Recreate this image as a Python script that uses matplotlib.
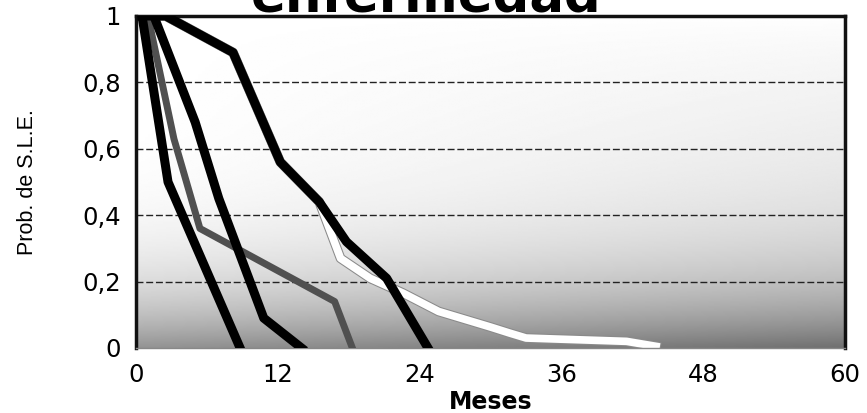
import matplotlib.pyplot as plt
import numpy as np

# Survival curves (months, probability)
c1_x = [0.5, 2.7, 8.8]
c1_y = [1.0, 0.5, 0.0]

gray_x = [1.0, 3.2, 5.4, 16.8, 18.3]
gray_y = [1.0, 0.63, 0.36, 0.14, 0.0]

c3_x = [1.5, 5.0, 7.0, 10.8, 14.0]
c3_y = [1.0, 0.68, 0.45, 0.09, 0.0]

c4_x = [0.5, 2.5, 8.2, 12.2, 15.5, 17.8, 21.2, 24.7]
c4_y = [1.0, 1.0, 0.89, 0.56, 0.44, 0.32, 0.21, 0.0]

# white curve runs under the 4th one at the start
white_x = [0.5, 2.5, 8.2, 12.2, 15.5, 17.3, 19.8, 22.6, 25.6, 30.0, 31.6, 33.0, 41.5, 44.0]
white_y = [1.0, 1.0, 0.89, 0.56, 0.44, 0.27, 0.21, 0.165, 0.11, 0.063, 0.045, 0.03, 0.02, 0.005]

x_ticks = [0, 12, 24, 36, 48, 60]
y_ticks = [0, 0.2, 0.4, 0.6, 0.8, 1.0]
y_tick_labels = ["0", "0,2", "0,4", "0,6", "0,8", "1"]

fig = plt.figure(figsize=(8.67, 4.13), dpi=100)
ax = fig.add_axes([0.157, 0.1574, 0.8178, 0.8039])

# shaded background, light at the top and darker toward the bottom / right
gx, gy = np.meshgrid(np.linspace(0, 1, 200), np.linspace(0, 1, 200))
shade = 1 - 0.42 * (1 - gy) ** 5 - 0.14 * gx * (1 - gy) ** 0.7
ax.imshow(shade, extent=[0, 60, 0, 1], origin="lower", aspect="auto",
          cmap="gray", vmin=0, vmax=1, zorder=0, interpolation="bilinear")

for yv in y_ticks[1:-1]:
    ax.axhline(yv, color="#222222", lw=1, dashes=(5, 2), zorder=1)

ax.plot(white_x, white_y, color="#8a8a8a", lw=7, zorder=2, solid_joinstyle="round")
ax.plot(white_x, white_y, color="white", lw=5.5, zorder=2.1, solid_joinstyle="round")
ax.plot(gray_x, gray_y, color="#505050", lw=5, zorder=3, solid_joinstyle="round")
ax.plot(c1_x, c1_y, color="black", lw=6.5, zorder=4, solid_joinstyle="round")
ax.plot(c3_x, c3_y, color="black", lw=6.5, zorder=4, solid_joinstyle="round")
ax.plot(c4_x, c4_y, color="black", lw=6.5, zorder=4, solid_joinstyle="round")

ax.set_xlim(0, 60)
ax.set_ylim(0, 1)
ax.set_xticks(x_ticks)
ax.set_xticklabels([str(t) for t in x_ticks], fontsize=17.5, family="DejaVu Sans")
ax.set_yticks(y_ticks)
ax.set_yticklabels(y_tick_labels, fontsize=17.5, family="DejaVu Sans")
ax.tick_params(length=0, pad=11)

for side in ["top", "left", "right"]:
    ax.spines[side].set_color("#111111")
    ax.spines[side].set_linewidth(2.5)
ax.spines["bottom"].set_color("#888888")
ax.spines["bottom"].set_linewidth(1)

ax.set_xlabel("Meses", fontsize=17, fontweight="bold", family="DejaVu Sans", labelpad=2)
ax.set_ylabel("Prob. de S.L.E.", fontsize=15.5, family="Liberation Sans", labelpad=32)

# title, only its lower part is left on the scan
fig.text(0.491, 1 - 11 / 413, "enfermedad", fontsize=37, fontweight="bold",
         family="DejaVu Sans", ha="center", va="baseline")

fig.savefig("out.png", dpi=100)
